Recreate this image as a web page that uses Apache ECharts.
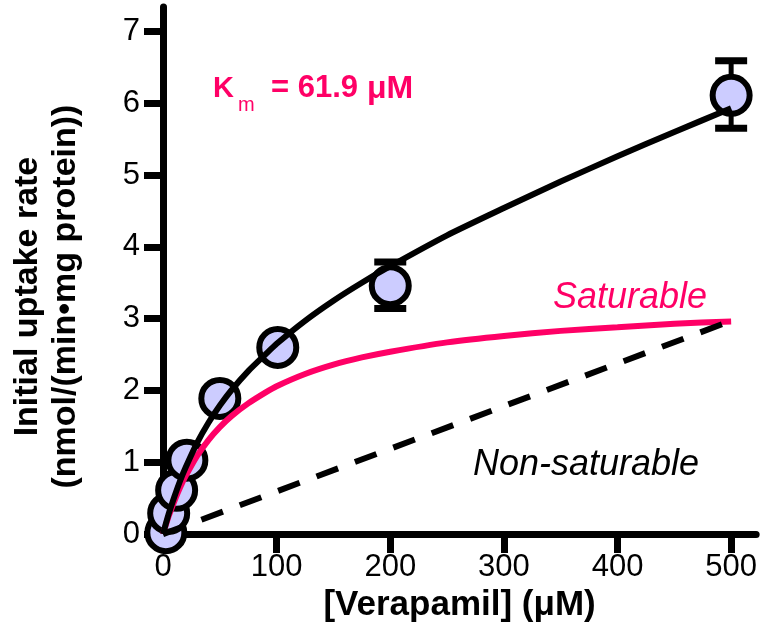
<!DOCTYPE html>
<html>
<head>
<meta charset="utf-8">
<title>Verapamil uptake</title>
<script src="https://cdn.jsdelivr.net/npm/echarts@6/dist/echarts.min.js"></script>
<style>
    html, body { margin: 0; padding: 0; background: #fff; }
    #echarts { width: 760px; height: 628px; }
</style>
</head>
<body>
<div id="echarts"></div>
<script>
// measured points (mean) and the two error bars
var pointX = [2.5, 5, 12, 21, 50, 101, 200, 500];
var pointY = [0.02, 0.29, 0.61, 1.03, 1.89, 2.60, 3.46, 6.11];
var errX = [200, 500];
var errLow = [3.14, 5.65];
var errHigh = [3.79, 6.59];

// total fit (black)
var fitX = [0, 5, 10, 15, 20, 30, 40, 50, 60, 75, 90, 100, 125, 150, 175, 200, 250, 300, 350, 400, 450, 500];
var fitY = [0, 0.28, 0.52, 0.74, 0.93, 1.27, 1.55, 1.79, 2.00, 2.27, 2.50, 2.65, 2.97, 3.25, 3.50, 3.73, 4.16, 4.54, 4.91, 5.26, 5.60, 5.93];

// saturable part (pink)
var satX = [0, 5, 10, 15, 20, 30, 40, 50, 60, 75, 90, 100, 125, 150, 175, 200, 250, 300, 350, 400, 450, 500];
var satY = [0, 0.25, 0.46, 0.65, 0.81, 1.09, 1.31, 1.49, 1.64, 1.82, 1.97, 2.06, 2.23, 2.36, 2.46, 2.54, 2.67, 2.76, 2.83, 2.88, 2.93, 2.96];

// non-saturable part (dashed)
var nonSatX = [0, 500];
var nonSatY = [0, 2.97];

var xTicks = [0, 100, 200, 300, 400, 500];
var yTicks = [0, 1, 2, 3, 4, 5, 6, 7];

var FONT = 'Liberation Sans, Arial, Helvetica, sans-serif';
var PINK = '#ff0066';

drawEcharts();

/**
 * zip two arrays into [x, y] pairs
 */
function pairs(xs, ys) {
    var out = [];
    for (var i = 0; i < xs.length; i++) {
        out.push([xs[i], ys[i]]);
    }
    return out;
}

/**
 * error bar with caps
 */
function renderErrorBar(params, api) {
    var x = api.value(0);
    var lo = api.coord([x, api.value(1)]);
    var hi = api.coord([x, api.value(2)]);
    var half = 16;
    var capStyle = { stroke: '#000', lineWidth: 7 };
    return {
        type: 'group',
        children: [
            { type: 'line', shape: { x1: lo[0], y1: lo[1], x2: hi[0], y2: hi[1] }, style: { stroke: '#000', lineWidth: 5 } },
            { type: 'line', shape: { x1: lo[0] - half, y1: lo[1], x2: lo[0] + half, y2: lo[1] }, style: capStyle },
            { type: 'line', shape: { x1: hi[0] - half, y1: hi[1], x2: hi[0] + half, y2: hi[1] }, style: capStyle }
        ]
    };
}

function drawEcharts() {
    var chartDom = document.getElementById('echarts');
    var myChart = echarts.init(chartDom);

    var errData = [];
    for (var i = 0; i < errX.length; i++) {
        errData.push([errX[i], errLow[i], errHigh[i]]);
    }

    var option = {
        animation: false,
        backgroundColor: '#fff',
        textStyle: { fontFamily: FONT },
        grid: { left: 163, right: 3, top: 7, bottom: 93 },
        xAxis: {
            type: 'value',
            min: 0,
            max: 522,
            interval: 100,
            splitLine: { show: false },
            axisLine: { show: true, lineStyle: { color: '#000', width: 7 } },
            axisTick: { show: true, length: 19, customValues: xTicks, lineStyle: { color: '#000', width: 7 } },
            axisLabel: { customValues: xTicks, color: '#000', fontSize: 31, fontFamily: FONT, margin: 18 },
            name: '[Verapamil] (μM)',
            nameLocation: 'middle',
            nameGap: 46,
            nameTextStyle: { color: '#000', fontSize: 35, fontWeight: 'bold', fontFamily: FONT, verticalAlign: 'top' }
        },
        yAxis: {
            type: 'value',
            min: 0,
            max: 7.34,
            interval: 1,
            splitLine: { show: false },
            axisLine: { show: true, lineStyle: { color: '#000', width: 7 } },
            axisTick: { show: true, length: 19, customValues: yTicks, lineStyle: { color: '#000', width: 7 } },
            axisLabel: { customValues: yTicks, color: '#000', fontSize: 31, fontFamily: FONT, margin: 23 },
            name: 'Initial uptake rate\n(nmol/(min•mg protein))',
            nameLocation: 'middle',
            nameRotate: 90,
            nameGap: 78,
            nameTextStyle: { color: '#000', fontSize: 34, fontWeight: 'bold', fontFamily: FONT, lineHeight: 38, padding: [0, 52, 0, 0] }
        },
        graphic: [
            { type: 'text', left: 213, top: 74, style: { text: 'K', fill: PINK, font: 'bold 29px ' + FONT } },
            { type: 'text', left: 238, top: 95, style: { text: 'm', fill: PINK, font: '20px ' + FONT } },
            { type: 'text', left: 271, top: 73, style: { text: '= 61.9', fill: PINK, font: 'bold 31px ' + FONT } },
            { type: 'text', left: 367, top: 73, style: { text: 'μM', fill: PINK, font: 'bold 32px ' + FONT } },
            { type: 'text', left: 553, top: 280, style: { text: 'Saturable', fill: PINK, font: 'italic 36px ' + FONT } },
            { type: 'text', left: 473, top: 447, style: { text: 'Non-saturable', fill: '#000', font: 'italic 36px ' + FONT } }
        ],
        series: [
            {
                name: 'Saturable',
                type: 'line',
                data: pairs(satX, satY),
                smooth: 0.2,
                showSymbol: false,
                lineStyle: { color: PINK, width: 6 }
            },
            {
                name: 'Non-saturable',
                type: 'line',
                data: pairs(nonSatX, nonSatY),
                showSymbol: false,
                lineStyle: { color: '#000', width: 6, type: [23, 18] }
            },
            {
                name: 'Total',
                type: 'line',
                data: pairs(fitX, fitY),
                smooth: 0.2,
                showSymbol: false,
                lineStyle: { color: '#000', width: 6 }
            },
            {
                name: 'SEM',
                type: 'custom',
                renderItem: renderErrorBar,
                data: errData
            },
            {
                name: 'Measured',
                type: 'scatter',
                data: pairs(pointX, pointY),
                symbol: 'circle',
                symbolSize: 37,
                itemStyle: { color: '#ccccff', borderColor: '#000', borderWidth: 6, opacity: 1 }
            }
        ]
    };

    option && myChart.setOption(option);
}
</script>
</body>
</html>
